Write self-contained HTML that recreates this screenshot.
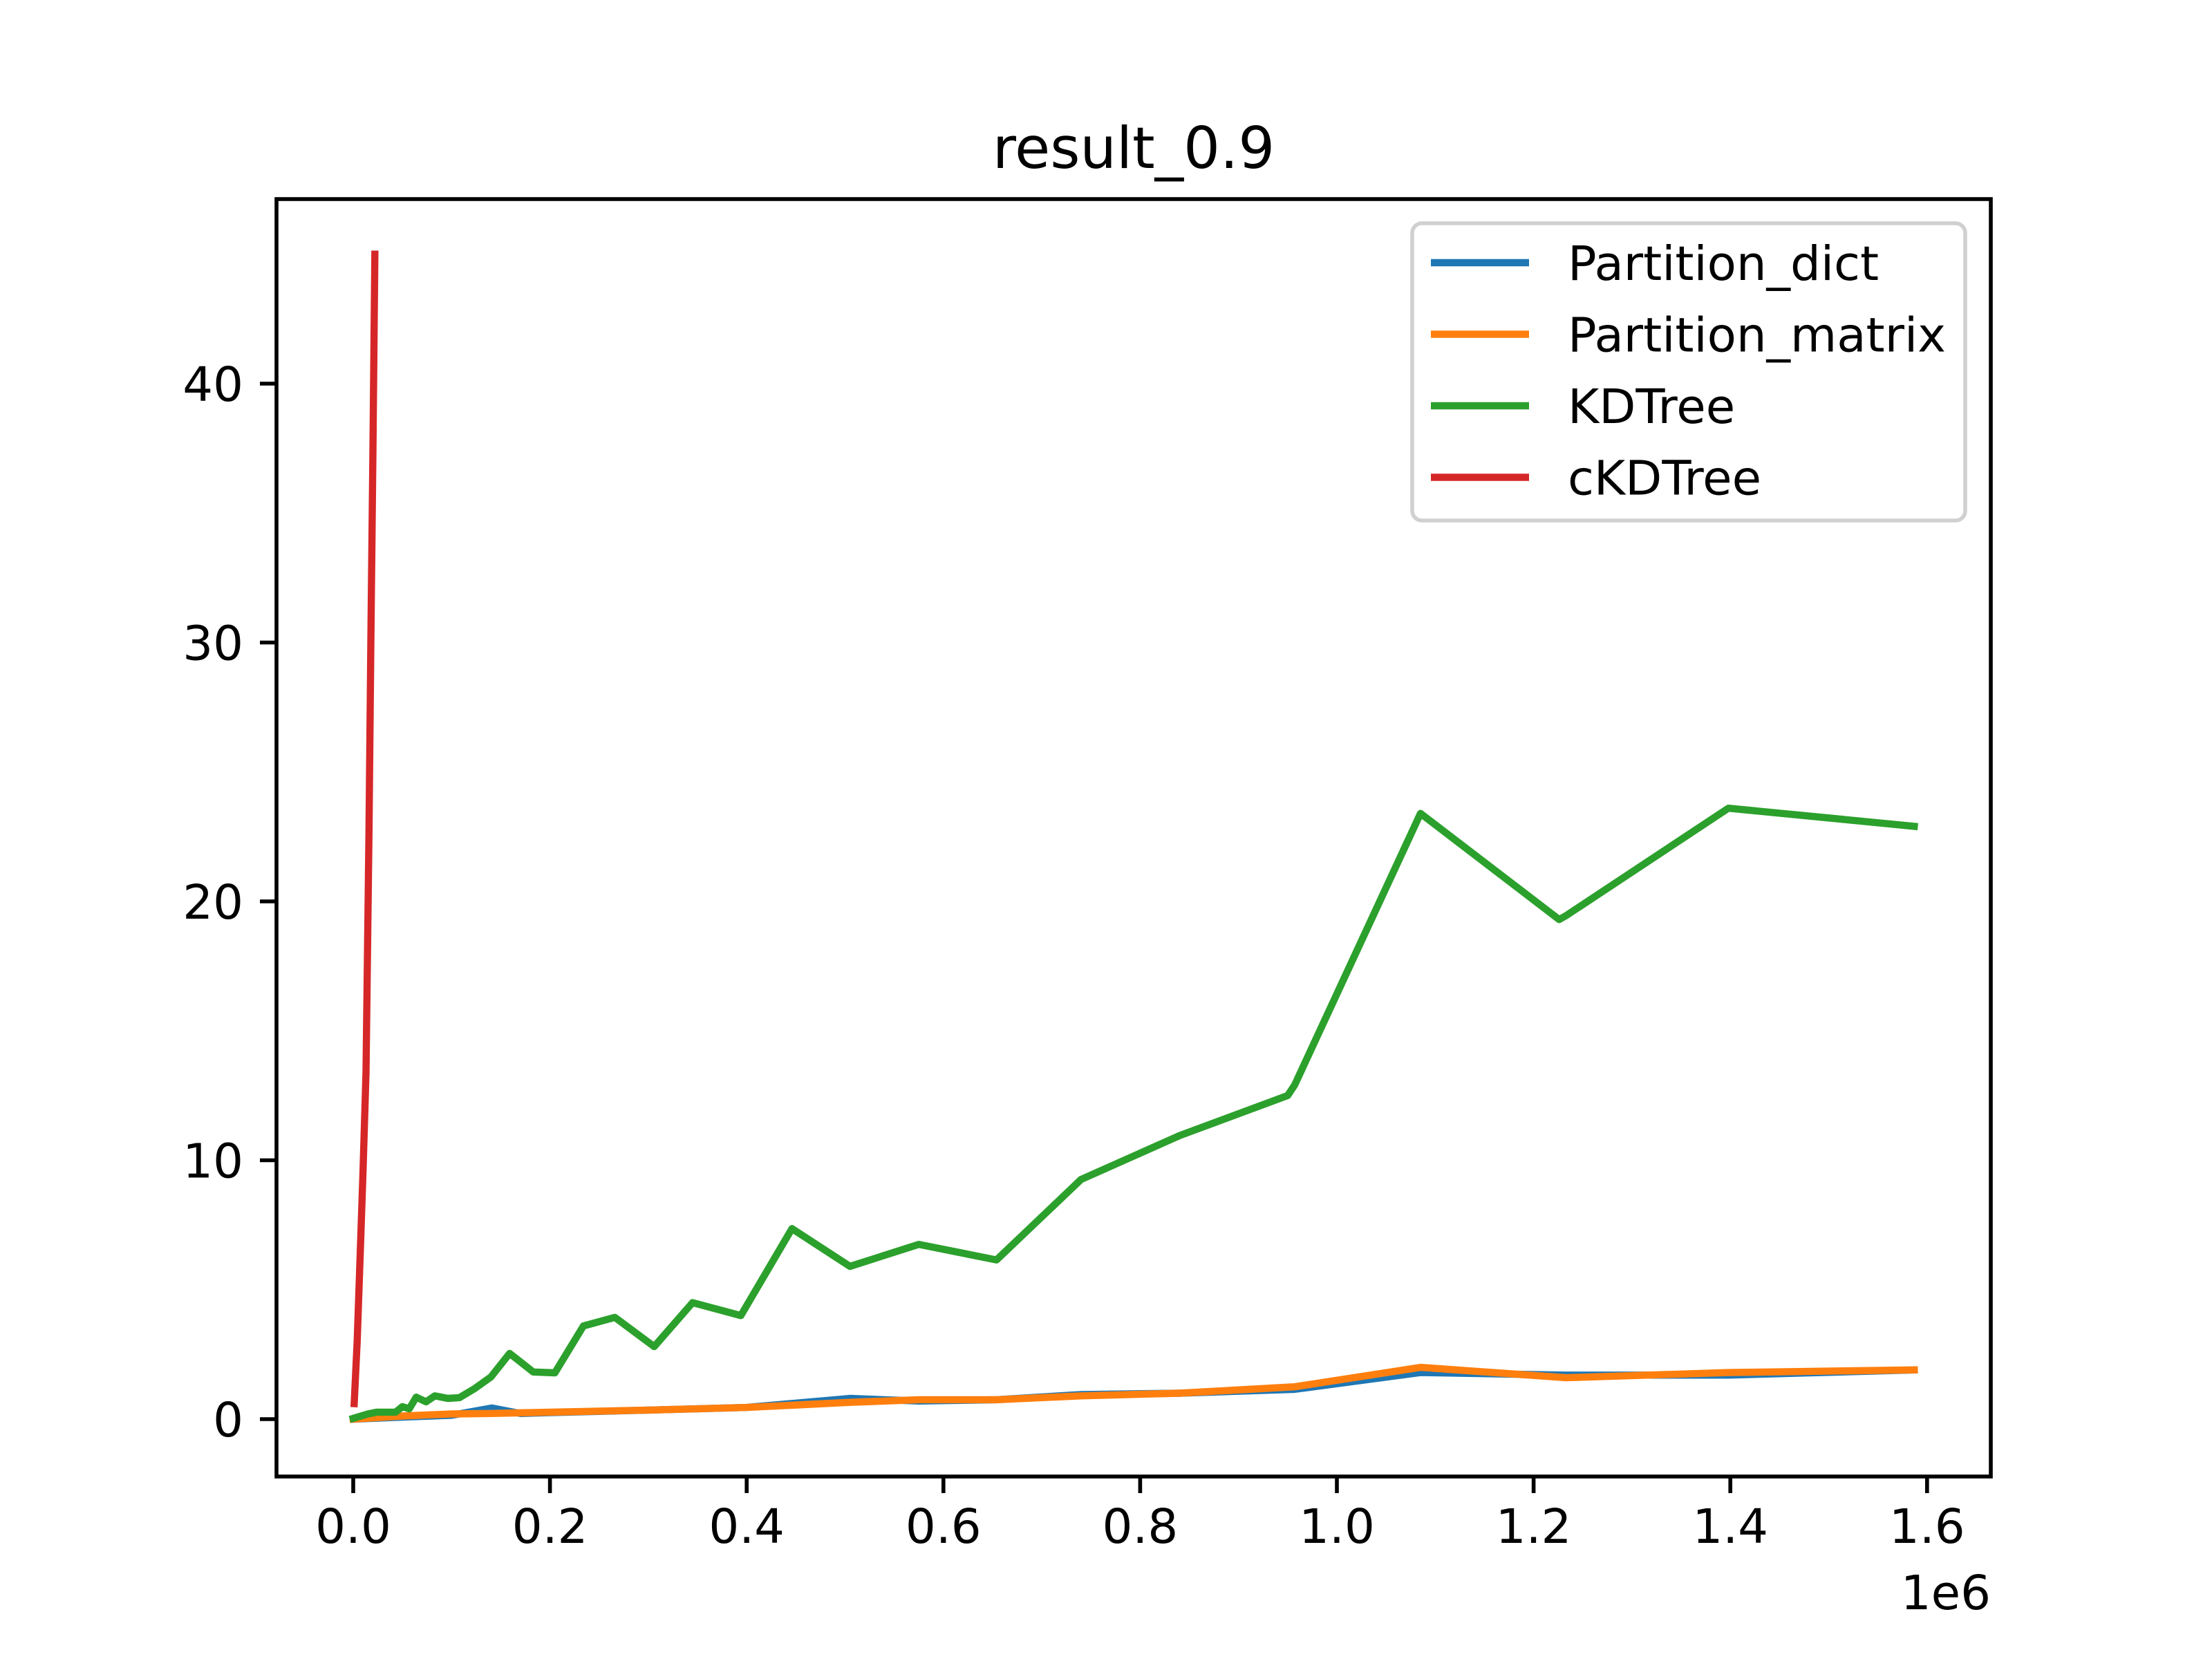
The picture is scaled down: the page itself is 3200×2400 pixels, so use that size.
<!DOCTYPE html>
<html><head><meta charset="utf-8"><style>html,body{margin:0;padding:0;background:#fff}svg{display:block}text{font-family:"DejaVu Sans","Liberation Sans",sans-serif}</style></head>
<body>
<svg id="chart" width="3200" height="2400" viewBox="0 0 3200 2400" xmlns="http://www.w3.org/2000/svg">
<rect x="0" y="0" width="3200" height="2400" fill="#fff"/>
<text x="1640" y="243" font-size="83" text-anchor="middle">result_0.9</text>
<g id="plot"></g>
<rect x="400" y="288" width="2480" height="1848" fill="none" stroke="#000" stroke-width="5.6"/>
<g id="xticks"></g>
<g id="yticks"></g>
<text x="2880" y="2328" font-size="69" text-anchor="end">1e6</text>
<g>
<rect x="2043" y="323" width="800" height="430" rx="14" fill="#fff" fill-opacity="0.8" stroke="#d0d0d0" stroke-width="5.6"/>
<g id="legend-items"></g>
</g>
</svg>
<script>
const seriesNames = ["Partition_dict","Partition_matrix","KDTree","cKDTree"];
const seriesColors = ["#1f77b4","#ff7f0e","#2ca02c","#d62728"];
const dictX = [0,50000,100000,141000,170000,200000,300000,400000,505000,575000,654000,740000,840000,957000,1085000,1233000,1398000,1587000];
const dictY = [0,0.08,0.15,0.43,0.22,0.25,0.35,0.45,0.8,0.7,0.75,0.95,1.0,1.15,1.8,1.7,1.7,1.9];
const matX = [0,50000,100000,140000,200000,300000,400000,505000,575000,654000,740000,840000,957000,1085000,1233000,1398000,1587000];
const matY = [0,0.12,0.2,0.22,0.27,0.35,0.45,0.65,0.75,0.75,0.9,1.0,1.25,2.0,1.6,1.8,1.9];
const kdX = [0,6000,15000,24000,34000,43000,50000,57000,64000,74000,83000,96000,108000,123000,140000,159000,183000,205000,234000,266000,306000,345000,394000,446000,505000,575000,654000,740000,840000,950000,957000,1085000,1226000,1233000,1398000,1587000];
const kdY = [0.03,0.1,0.2,0.27,0.27,0.27,0.48,0.4,0.85,0.67,0.9,0.8,0.83,1.17,1.63,2.54,1.82,1.79,3.6,3.93,2.8,4.5,4.0,7.36,5.9,6.75,6.15,9.26,10.95,12.5,12.9,23.4,19.3,19.45,23.6,22.9];
const ckdX = [1000,4000,7000,10000,13000,16000,18000,20000,22000];
const ckdY = [0.6,3,6.3,9.6,13.4,22.7,30.3,37.4,45];
const xTicks = [0,0.2e6,0.4e6,0.6e6,0.8e6,1.0e6,1.2e6,1.4e6,1.6e6];
const xTickLabels = ["0.0","0.2","0.4","0.6","0.8","1.0","1.2","1.4","1.6"];
const yTicks = [0,10,20,30,40];
const yTickLabels = ["0","10","20","30","40"];

const NS="http://www.w3.org/2000/svg";
function xs(v){return 511 + v/1e6*1423;}
function ys(v){return 2053 - v*37.45;}
function mk(tag,attrs,parent){const e=document.createElementNS(NS,tag);for(const k in attrs)e.setAttribute(k,attrs[k]);parent.appendChild(e);return e;}
const plot=document.getElementById('plot');
const allX=[dictX,matX,kdX,ckdX], allY=[dictY,matY,kdY,ckdY];
for(let s=0;s<4;s++){
  const d=allX[s].map((x,i)=>(i?'L':'M')+xs(x).toFixed(1)+','+ys(allY[s][i]).toFixed(1)).join(' ');
  const p=mk('path',{d:d,fill:'none',stroke:seriesColors[s],'stroke-width':10.4,'stroke-linejoin':'round','stroke-linecap':'square'},plot);
  
  
}
const xg=document.getElementById('xticks');
xTicks.forEach((v,i)=>{
  const l=mk('line',{x1:xs(v),x2:xs(v),y1:2136,y2:2160,stroke:'#000','stroke-width':5.6},xg);
  
  
  const t=mk('text',{x:xs(v),y:2232,'font-size':69,'text-anchor':'middle'},xg);
  t.textContent=xTickLabels[i];
  
  
});
const yg=document.getElementById('yticks');
yTicks.forEach((v,i)=>{
  const l=mk('line',{x1:376,x2:400,y1:ys(v),y2:ys(v),stroke:'#000','stroke-width':5.6},yg);
  
  
  const t=mk('text',{x:352,y:ys(v)+25,'font-size':69,'text-anchor':'end'},yg);
  t.textContent=yTickLabels[i];
  
  
});
const lg=document.getElementById('legend-items');
seriesNames.forEach((n,i)=>{
  const y=380+i*103.5;
  const l=mk('line',{x1:2070,x2:2212,y1:y,y2:y,stroke:seriesColors[i],'stroke-width':10.4},lg);
  
  
  const t=mk('text',{x:2268,y:y+25,'font-size':69},lg);
  t.textContent=n;
  
  
});
</script>
</body></html>
